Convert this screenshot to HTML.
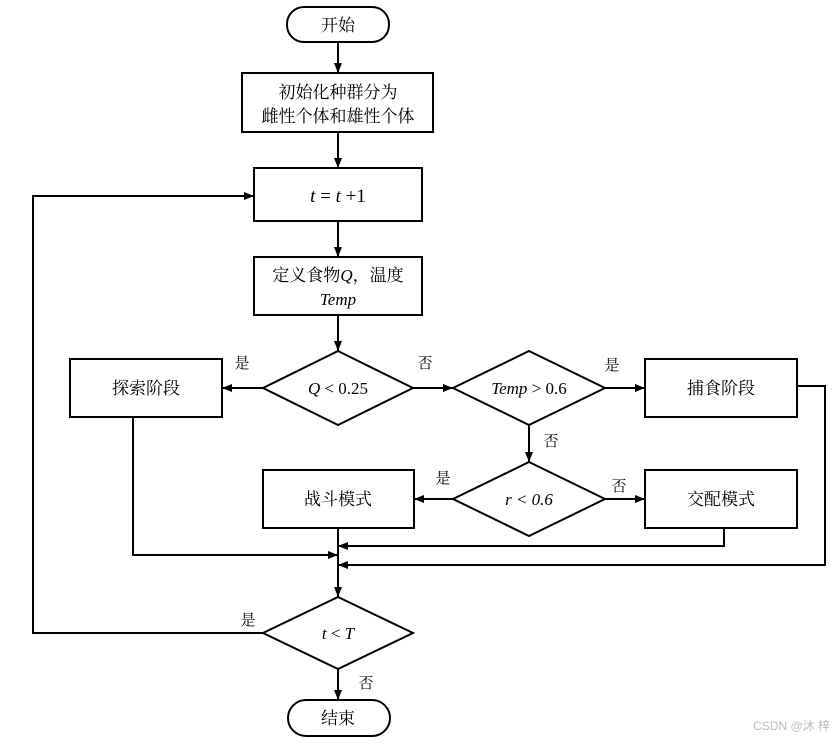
<!DOCTYPE html>
<html><head><meta charset="utf-8"><style>
body{margin:0;background:#fff;}
svg text{font-family:"Liberation Serif","Noto Serif CJK SC","Noto Sans CJK SC",serif;fill:#000;}
</style></head><body>
<svg width="835" height="742" viewBox="0 0 835 742" xmlns="http://www.w3.org/2000/svg">
<defs><marker id="a" markerWidth="10" markerHeight="8" refX="10" refY="4" orient="auto" markerUnits="userSpaceOnUse"><path d="M0,0 L10,4 L0,8 z" fill="#000"/></marker></defs>
<g stroke="#000" stroke-width="2" fill="none">
<rect x="287" y="7" width="102" height="35" rx="17"/>
<rect x="242" y="73" width="191" height="59"/>
<rect x="254" y="168" width="168" height="53"/>
<rect x="254" y="257" width="168" height="58"/>
<polygon points="338,351 413,388 338,425 263,388"/>
<polygon points="529,351 605,388 529,425 453,388"/>
<rect x="70" y="359" width="152" height="58"/>
<rect x="645" y="359" width="152" height="58"/>
<polygon points="529,462 605,499 529,536 453,499"/>
<rect x="263" y="470" width="151" height="58"/>
<rect x="645" y="470" width="152" height="58"/>
<polygon points="338,597 413,633 338,669 263,633"/>
<rect x="288" y="700" width="102" height="36" rx="18"/>
</g>
<g stroke="#000" stroke-width="2" fill="none">
<line x1="338" y1="42" x2="338" y2="73" marker-end="url(#a)"/>
<line x1="338" y1="132" x2="338" y2="168" marker-end="url(#a)"/>
<line x1="338" y1="221" x2="338" y2="257" marker-end="url(#a)"/>
<line x1="338" y1="315" x2="338" y2="351" marker-end="url(#a)"/>
<line x1="263" y1="388" x2="222" y2="388" marker-end="url(#a)"/>
<line x1="413" y1="388" x2="453" y2="388" marker-end="url(#a)"/>
<line x1="605" y1="388" x2="645" y2="388" marker-end="url(#a)"/>
<line x1="529" y1="425" x2="529" y2="462" marker-end="url(#a)"/>
<line x1="453" y1="499" x2="414" y2="499" marker-end="url(#a)"/>
<line x1="605" y1="499" x2="645" y2="499" marker-end="url(#a)"/>
<polyline points="133,417 133,555 338,555" marker-end="url(#a)"/>
<polyline points="724,528 724,546 338,546" marker-end="url(#a)"/>
<polyline points="797,386 825,386 825,565 338,565" marker-end="url(#a)"/>
<line x1="338" y1="528" x2="338" y2="597" marker-end="url(#a)"/>
<line x1="338" y1="669" x2="338" y2="700" marker-end="url(#a)"/>
<polyline points="263,633 33,633 33,196 254,196" marker-end="url(#a)"/>
</g>
<g font-size="17" text-anchor="middle">
<text x="338" y="31">开始</text>
<text x="338" y="98">初始化种群分为</text>
<text x="338" y="122">雌性个体和雄性个体</text>
<text x="338" y="202" font-size="19"><tspan font-style="italic">t</tspan> = <tspan font-style="italic">t</tspan> +1</text>
<text x="338" y="281">定义食物<tspan font-style="italic">Q</tspan>，温度</text>
<text x="338" y="305" font-style="italic">Temp</text>
<text x="338" y="394"><tspan font-style="italic">Q</tspan> &lt; 0.25</text>
<text x="529" y="394"><tspan font-style="italic">Temp</tspan> &gt; 0.6</text>
<text x="146" y="394">探索阶段</text>
<text x="721" y="394">捕食阶段</text>
<text x="529" y="505" font-style="italic">r &lt; 0.6</text>
<text x="338" y="505">战斗模式</text>
<text x="721" y="505">交配模式</text>
<text x="338" y="639"><tspan font-style="italic">t</tspan> &lt; <tspan font-style="italic">T</tspan></text>
<text x="338" y="724">结束</text>
</g>
<g font-size="15" text-anchor="middle">
<text x="242" y="368">是</text>
<text x="425" y="368">否</text>
<text x="612" y="370">是</text>
<text x="551" y="446">否</text>
<text x="443" y="483">是</text>
<text x="619" y="491">否</text>
<text x="248" y="625">是</text>
<text x="366" y="688">否</text>
</g>
<text x="830" y="730" font-size="12" text-anchor="end" style="fill:#bbb;font-family:'Liberation Sans','Noto Sans CJK SC',sans-serif">CSDN @沐 梓</text>
</svg>
</body></html>
